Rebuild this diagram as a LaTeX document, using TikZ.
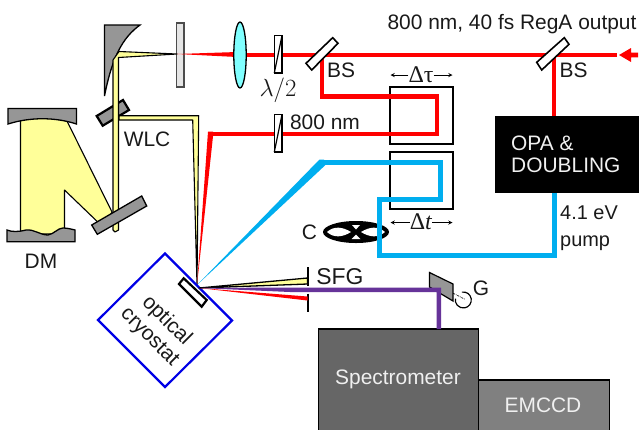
\documentclass[tikz,border=0pt]{standalone}
\usepackage{fontspec}
\setmainfont{Liberation Sans}
\newfontfamily\serifface{Liberation Serif}
\definecolor{beamred}{HTML}{FF0000}
\definecolor{beamblue}{HTML}{00AEEF}
\definecolor{beamyellow}{HTML}{FFFF99}
\definecolor{beampurple}{HTML}{663399}
\definecolor{mirrorgray}{HTML}{969696}
\definecolor{specgray}{HTML}{666666}
\definecolor{ccdgray}{HTML}{808080}
\definecolor{lenscyan}{HTML}{80FFFF}
\definecolor{cryoblue}{HTML}{0000E6}
\tikzset{
  lbl/.style={font=\fontsize{21}{24}\selectfont,inner sep=0pt,text=black!90},
  lblsmall/.style={font=\fontsize{20}{25}\selectfont,inner sep=0pt,text=black!90,align=left},
  boxtext/.style={font=\fontsize{21}{24}\selectfont,inner sep=0pt,text=white!94!black},
  mirror/.style={draw=black,fill=mirrorgray,line width=1.3bp},
  optic/.style={draw=black,fill=white,line width=1.6bp},
  plate/.style={draw=black,fill=white,line width=1.5bp},
  delaybox/.style={draw=black,line width=2bp},
  redbeam/.style={draw=beamred,line width=4.8bp,miter limit=10},
  bluebeam/.style={draw=beamblue,line width=5bp},
  yellowbeam/.style={draw=black,fill=beamyellow,line width=1.1bp,line join=round},
  stopper/.style={draw=black,line width=1.4bp},
  diml/.style={draw=black,line width=0.9bp,-stealth},
}
\begin{document}
\begin{tikzpicture}[x=1bp,y=-1bp]
\useasboundingbox (0,0) rectangle (640,429);
% --- named points
\coordinate (bsR) at (554,55);
\coordinate (bsL) at (322,55);
\coordinate (tip) at (197,285);
\coordinate (out) at (199,288);
\coordinate (lensc) at (240,55);
\coordinate (focus) at (177,54);

% --- delay boxes
\draw[delaybox] (389.5,86.5) rectangle (453,144);
\draw[delaybox] (389.5,152) rectangle (453,209);

% --- parabola
\draw[mirror] (104.5,25) -- (140,25) .. controls (122,38) and (112,58) .. (104.5,96) -- cycle;

% --- plate
\draw[draw=black!70,fill=black!10,line width=1.3bp] (176.7,23) rectangle (184,87);

% --- DM beam and mirrors
\draw[yellowbeam] (20.5,118) -- (65.5,118) -- (112,212) -- (104,228) -- (64.5,190) -- (64.5,234) -- (20.5,234) -- cycle;
\draw[mirror] (8,108.5) -- (76.5,108.5) -- (76.5,124) .. controls (55,117) and (30,117) .. (8,124) -- cycle;
\draw[mirror] (7,230) .. controls (12,232) and (18,232) .. (26,230) .. controls (34,229) and (40,235) .. (48,235) .. controls (54,234) and (58,228) .. (63,228) .. controls (67,228) and (71,229) .. (75,230) -- (75,241.7) -- (7,241.7) -- cycle;

% --- small WLC mirror
\draw[draw=black,fill=mirrorgray,line width=2.2bp] (96.7,116) -- (123,100) -- (129,110) -- (102.7,125.7) -- cycle;

% --- white light beams
\draw[yellowbeam] (tip) -- (192.7,120) -- (119,120) -- (119,115.7) -- (198.7,115.7) -- cycle;
\draw[yellowbeam] (focus) -- (119,51.5) -- (113,60) -- (113,230) -- (115,232) -- (118.5,230) -- (118.5,57.5) -- cycle;
\draw[mirror] (141.7,196) -- (146.7,206) -- (97.3,234.3) -- (91.7,225) -- cycle;

% --- red beams
\fill[beamred] (focus) -- (237,52) -- (237,57) -- cycle;
\draw[redbeam] (lensc) -- (617,55);
\fill[beamred] (619,55) -- (631,48) -- (631,52.7) -- (638,52.7) -- (638,57.3) -- (631,57.3) -- (631,62) -- cycle;
\draw[redbeam] (bsL) -- (322,96.5) -- (437,96.5) -- (437,134) -- (211,134);
\fill[beamred] (tip) -- (208,131.7) -- (213,131.7) -- (213,136.3) -- cycle;

% --- lens
\draw[draw=black,fill=lenscyan,line width=1.3bp] (lensc) ellipse [x radius=6.2,y radius=33];

% --- half-wave plate and compensator
\draw[plate] (274.3,35.5) rectangle (282,73);
\draw[line width=1.2bp] (282,35.5) -- (274.3,73);
\draw[plate] (274.3,114.5) rectangle (282,152);
\draw[line width=1.2bp] (282,114.5) -- (274.3,152);

% --- beam splitters
\draw[redbeam] (bsR) -- (554,116);
\draw[optic] (536.7,62.3) -- (541.7,70) -- (569,44.3) -- (564.3,37.7) -- cycle;
\draw[optic] (306,63.3) -- (311.7,70) -- (338,43.3) -- (332.7,37.7) -- cycle;

% --- chopper
\fill[black] (356,232) ellipse [x radius=33,y radius=11];
\fill[white] (327,232) .. controls (334,225.5) and (343,227) .. (351,232) .. controls (343,237) and (334,238.5) .. (327,232) -- cycle;
\fill[white] (385,232) .. controls (378,225.5) and (369,227) .. (361,232) .. controls (369,237) and (378,238.5) .. (385,232) -- cycle;
\fill[white] (352,225) -- (360,225) -- (356,229.5) -- cycle;
\fill[white] (351.5,239) -- (360.5,239) -- (356,234.5) -- cycle;

% --- boxes
\node[fill=black,minimum width=144bp,minimum height=77bp,inner sep=0pt] (opa) at (567,154.5) {};
\node[draw=black,fill=ccdgray,line width=1.3bp,minimum width=131bp,minimum height=60bp,inner sep=0pt] (emccd) at (544,410) {};
\node[draw=black,fill=specgray,line width=1.3bp,minimum width=160bp,minimum height=110bp,inner sep=0pt] (spec) at (398.5,384) {};

% --- blue pump beam
\fill[beamblue] (tip) -- (319.5,159.5) -- (324,159.5) -- (324,164.5) -- (326,164.5) -- cycle;
\draw[bluebeam] (321,162) -- (440.5,162) -- (440.5,199.5) -- (379.5,199.5) -- (379.5,255.5) -- (554,255.5) -- (opa.south -| 554,0);

% --- cryostat
\draw[draw=cryoblue,line width=2.2bp] (165,253.5) -- (232,320.5) -- (165,387) -- (98,320) -- cycle;
\draw[draw=black,fill=white,line width=2.2bp] (179,284) -- (183.7,278.3) -- (206.7,300) -- (201.7,306.7) -- cycle;

% --- stops
\draw[stopper] (308,267) -- (308,286);
\draw[stopper] (308,293.5) -- (308,312);

% --- grating
\draw[draw=black,fill=mirrorgray,line width=1.2bp] (429.5,272.5) -- (453,284) -- (453,301) -- (429.5,287) -- cycle;
\draw[line width=0.7bp,dash pattern=on 2pt off 1pt on 0.6pt off 1pt] (453.3,293.3) -- (465,299.3);
\draw[line width=1.2bp] (461.9,292.1) arc[start angle=-100,end angle=190,radius=8];

% --- outgoing beams
\draw[draw=black,fill=beamyellow,line width=1.3bp,line join=round] (out) -- (307.5,278) -- (307.5,284) -- cycle;
\fill[beamred] (out) -- (307.5,296.5) -- (307.5,300.5) -- cycle;
\fill[beampurple] (out) -- (290,287.5) -- (441,287.5) -- (441,329) -- (436.5,329) -- (436.5,292) -- (290,292) -- cycle;

% --- labels
\node[lbl] (rega) at (512,24) {800 nm, 40 fs RegA output};
\node[lbl] (bs1) at (341,70) {BS};
\node[lbl] (bs2) at (573.5,70) {BS};
\node[lbl] (nm) at (325,122) {800 nm};
\node[lbl] (wlc) at (147,139) {WLC};
\node[lbl] (dm) at (41,261) {DM};
\node[lbl] (lam) at (278,90) {\fontsize{23}{26}\selectfont$\lambda/2$};
\node[lbl,font=\fontsize{24}{26}\selectfont\serifface] (dtau) at (421,75) {Δτ};
\node[lbl,font=\fontsize{24}{26}\selectfont\serifface] (dt) at (421,222) {Δ\textit{t}};
\coordinate (dtauL) at (390.5,75);
\coordinate (dtauR) at (452.5,75);
\coordinate (dtL) at (390.5,222.5);
\coordinate (dtR) at (452.5,222.5);
\draw[diml] (dtau.west |- dtauL) -- (dtauL);
\draw[diml] (dtau.east |- dtauR) -- (dtauR);
\draw[diml] (dt.west |- dtL) -- (dtL);
\draw[diml] (dt.east |- dtR) -- (dtR);
\node[boxtext,align=left,anchor=west] (opat) at (511,154) {OPA \&\\[-1.5pt]DOUBLING};
\node[lblsmall,anchor=west] (pump) at (560,228) {4.1 eV\\[2pt]pump};
\node[lbl] (c) at (309.5,232) {C};
\node[lbl,font=\fontsize{23}{26}\selectfont] (sfg) at (340,277) {SFG};
\node[lbl] (g) at (481,288) {G};
\node[boxtext] (spect) at (398,379) {Spectrometer};
\node[boxtext] (ccdt) at (543,405) {EMCCD};
\node[lbl,rotate=-45,font=\fontsize{21}{24}\selectfont] (opt) at (166.5,321) {optical};
\node[lbl,rotate=-45,font=\fontsize{21}{24}\selectfont] (cry) at (149,337.5) {cryostat};
\end{tikzpicture}
\end{document}
